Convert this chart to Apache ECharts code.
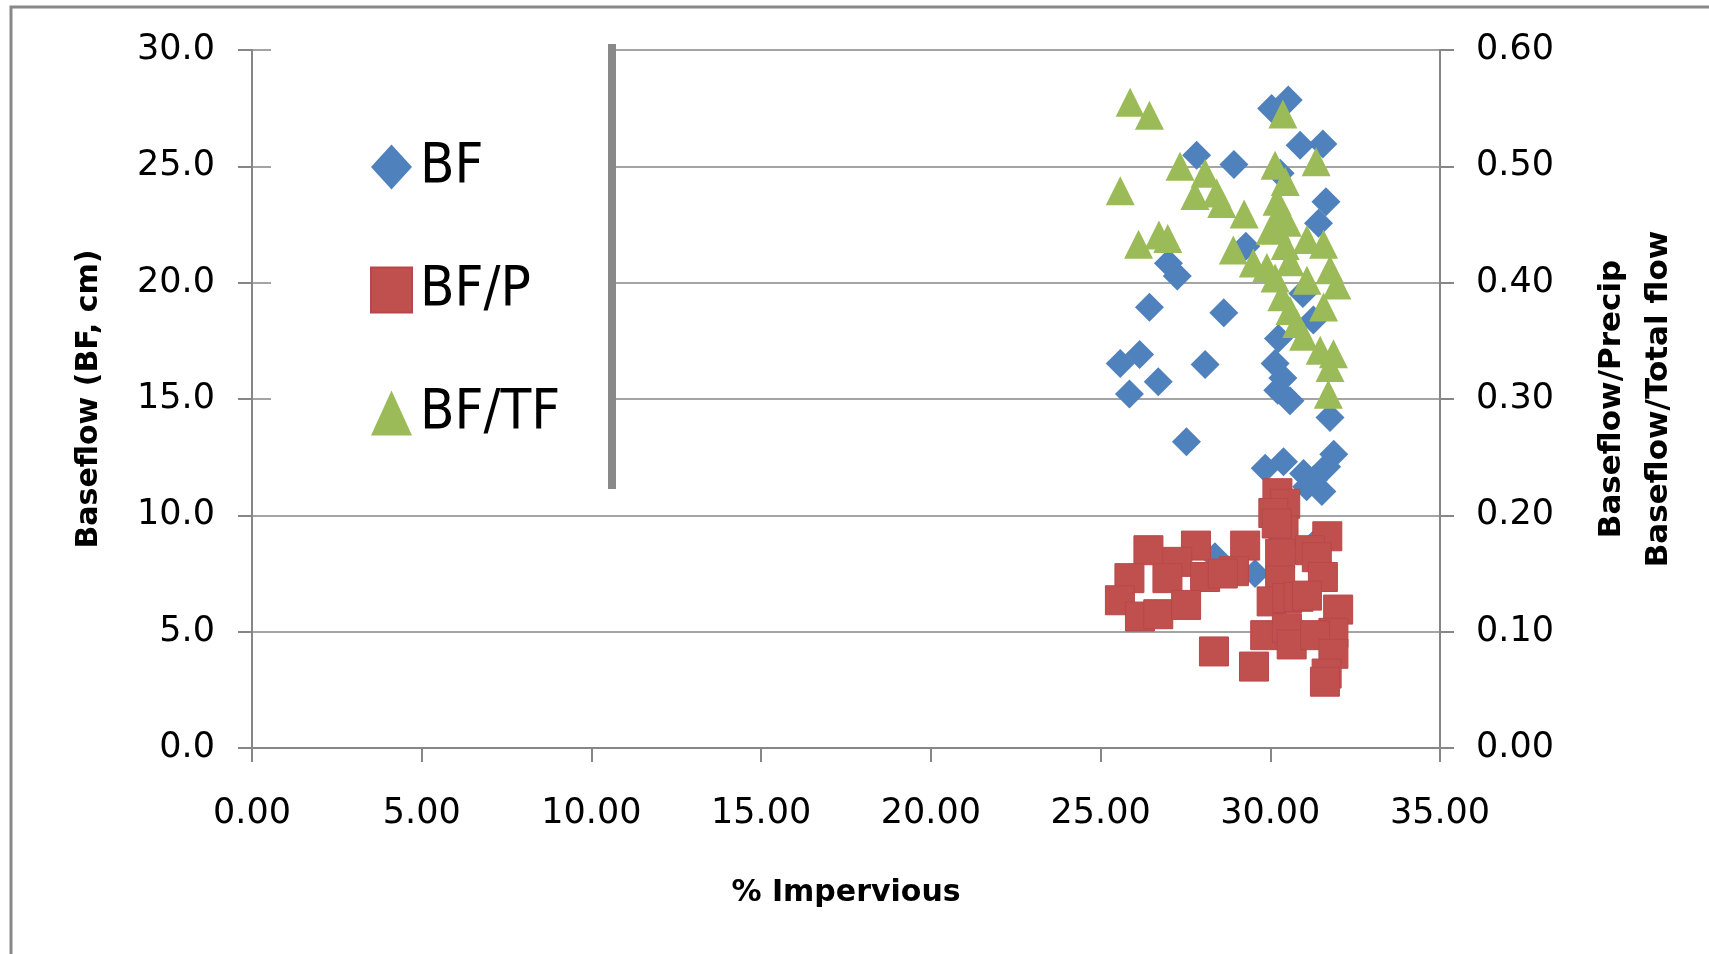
<!DOCTYPE html>
<html>
<head>
<meta charset="utf-8">
<script src="https://cdn.jsdelivr.net/npm/echarts@6/dist/echarts.min.js"></script>
<style>html,body{margin:0;padding:0;background:#fff;}#c{width:1709px;height:954px;}</style>
</head>
<body>
<div id="c"></div>
<script>
// ---- Data ----
const seriesNames = ['BF', 'BF/P', 'BF/TF'];
// BF (cm), left axis
const bfX = [30.53,30.04,30.88,31.55,27.83,28.93,30.29,31.64,31.42,29.28,27.00,27.26,26.44,28.63,30.24,31.27,30.96,25.58,26.15,25.85,26.70,28.08,30.14,30.37,30.22,30.58,31.76,27.53,31.87,31.66,29.85,30.39,30.98,31.27,31.52,31.07,28.37,29.55,31.45];
const bfY = [27.85,27.49,25.91,25.96,25.48,25.08,24.70,23.48,22.55,21.57,20.83,20.29,18.94,18.71,17.60,18.40,19.53,16.53,16.91,15.21,15.74,16.48,16.53,15.90,15.38,14.92,14.20,13.16,12.62,12.09,12.02,12.30,11.80,11.52,11.02,11.23,8.22,7.50,9.00];
// BF/P, right axis
const bfpX = [30.21,30.44,30.09,30.39,31.68,26.41,27.81,29.26,27.26,25.85,26.97,28.08,28.93,30.29,31.17,31.37,30.29,31.55,25.57,26.16,26.70,27.52,30.04,30.50,30.83,32.00,31.86,29.85,30.49,30.63,31.32,28.34,29.52,31.86,31.66,31.61,28.60,30.19,31.08];
const bfpY = [0.219,0.210,0.202,0.187,0.182,0.170,0.174,0.174,0.160,0.146,0.146,0.147,0.152,0.167,0.170,0.164,0.144,0.147,0.127,0.113,0.115,0.123,0.126,0.129,0.130,0.119,0.099,0.097,0.103,0.089,0.097,0.083,0.070,0.081,0.064,0.057,0.150,0.193,0.131];
// BF/TF, right axis
const bftfX = [25.87,26.44,25.58,27.34,28.08,27.78,28.42,28.57,29.23,30.37,31.35,30.14,30.44,26.12,26.72,26.98,28.91,30.29,30.19,30.44,31.08,31.57,29.50,29.90,30.58,31.76,30.14,31.96,31.08,30.34,30.58,31.57,30.78,30.98,31.47,31.86,31.76,31.71,30.20,30.50,30.00];
const bftfY = [0.555,0.544,0.479,0.500,0.494,0.475,0.477,0.468,0.459,0.545,0.504,0.501,0.487,0.433,0.441,0.438,0.428,0.461,0.447,0.432,0.437,0.433,0.417,0.413,0.418,0.411,0.404,0.398,0.402,0.388,0.376,0.379,0.365,0.354,0.342,0.339,0.327,0.304,0.470,0.452,0.445];
// Axes
const xTicks = {min: 0, max: 35, interval: 5};
const yLeftTicks = {min: 0, max: 30, interval: 5};
const yRightTicks = {min: 0, max: 0.6, interval: 0.1};
const xTitle = '% Impervious';
const yLeftTitle = 'Baseflow (BF, cm)';
const yRightTitle = 'Baseflow/Precip\nBaseflow/Total flow';

const zip = (a, b) => a.map((v, i) => [v, b[i]]);
const axisGray = '#868686';
const labelFont = {fontFamily: 'DejaVu Sans', fontSize: 35, color: '#000'};

const chart = echarts.init(document.getElementById('c'), null, {renderer: 'canvas'});
chart.setOption({
  animation: false,
  backgroundColor: '#fff',
  grid: {left: 252, right: 269, top: 50, bottom: 206, containLabel: false},
  legend: {
    data: seriesNames,
    orient: 'vertical',
    left: 365, top: 134,
    itemWidth: 41, itemHeight: 45, itemGap: 67,
    symbolKeepAspect: false,
    textStyle: {fontFamily: "'Liberation Sans Narrow', 'DejaVu Sans Condensed', sans-serif", fontSize: 56, color: '#000', padding: [0, 0, 0, 3]},
    z: 10
  },
  xAxis: {
    type: 'value', min: xTicks.min, max: xTicks.max, interval: xTicks.interval,
    name: xTitle, nameLocation: 'middle', nameGap: 130,
    nameTextStyle: {fontFamily: 'DejaVu Sans', fontWeight: 'bold', fontSize: 30, color: '#000'},
    axisLine: {show: true, onZero: false, lineStyle: {color: axisGray, width: 2}},
    axisTick: {show: true, length: 14, lineStyle: {color: axisGray, width: 2}},
    axisLabel: Object.assign({margin: 48, formatter: v => v.toFixed(2)}, labelFont),
    splitLine: {show: false}
  },
  yAxis: [
    {
      type: 'value', position: 'left', min: yLeftTicks.min, max: yLeftTicks.max, interval: yLeftTicks.interval,
      name: yLeftTitle, nameLocation: 'middle', nameGap: 148,
      nameTextStyle: {fontFamily: 'DejaVu Sans', fontWeight: 'bold', fontSize: 30, color: '#000', lineHeight: 30},
      axisLine: {show: true, onZero: false, lineStyle: {color: axisGray, width: 2}},
      axisTick: {show: true, length: 14, lineStyle: {color: axisGray, width: 2}},
      axisLabel: Object.assign({margin: 37, formatter: v => v.toFixed(1)}, labelFont),
      splitLine: {show: true, lineStyle: {color: axisGray, width: 1.5}}
    },
    {
      type: 'value', position: 'right', min: yRightTicks.min, max: yRightTicks.max, interval: yRightTicks.interval,
      name: yRightTitle, nameLocation: 'middle', nameGap: 148, nameRotate: 90,
      nameTextStyle: {fontFamily: 'DejaVu Sans', fontWeight: 'bold', fontSize: 31, color: '#000', lineHeight: 47, align: 'center'},
      axisLine: {show: true, onZero: false, lineStyle: {color: axisGray, width: 2}},
      axisTick: {show: true, length: 14, lineStyle: {color: axisGray, width: 2}},
      axisLabel: Object.assign({margin: 36, formatter: v => v.toFixed(2)}, labelFont),
      splitLine: {show: false}
    }
  ],
  graphic: [
    {type: 'rect', z: 5, silent: true, shape: {x: 271, y: 44, width: 337, height: 445}, style: {fill: '#fff'}},
    {type: 'line', z: 6, silent: true, shape: {x1: 612, y1: 44, x2: 612, y2: 489}, style: {stroke: '#898989', lineWidth: 8}},
    {type: 'polyline', z: 6, silent: true, shape: {points: [[11, 954], [11, 7], [1709, 7]]}, style: {stroke: '#888888', lineWidth: 3, fill: null}}
  ],
  series: [
    {name: seriesNames[0], type: 'scatter', yAxisIndex: 0, symbol: 'diamond', symbolSize: 29,
     itemStyle: {color: '#4F81BD', opacity: 1}, data: zip(bfX, bfY), z: 3},
    {name: seriesNames[1], type: 'scatter', yAxisIndex: 1, symbol: 'rect', symbolSize: 29,
     itemStyle: {color: '#C0504D', borderColor: '#B8474A', borderWidth: 1, opacity: 1}, data: zip(bfpX, bfpY), z: 3},
    {name: seriesNames[2], type: 'scatter', yAxisIndex: 1, symbol: 'triangle', symbolSize: 29,
     itemStyle: {color: '#9BBB59', opacity: 1}, data: zip(bftfX, bftfY), z: 3}
  ]
});
</script>
</body>
</html>
